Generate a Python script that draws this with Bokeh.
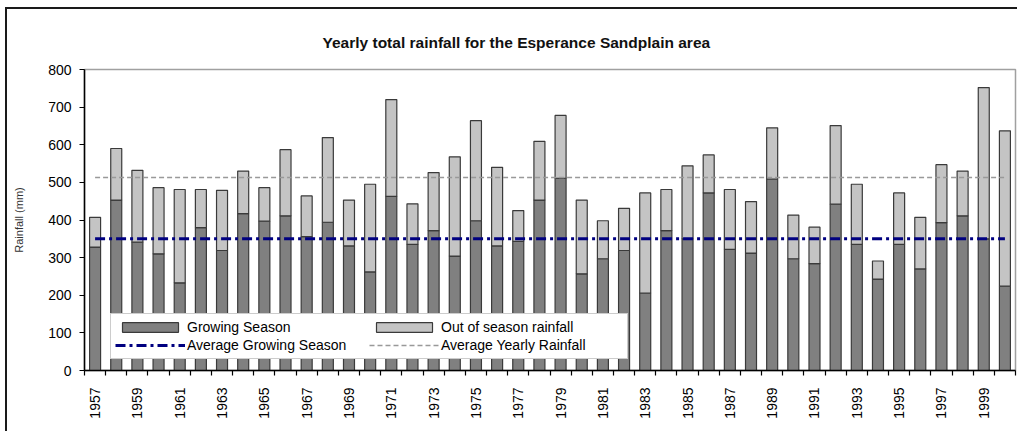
import math
from bokeh.plotting import figure
from bokeh.models import (ColumnDataSource, FixedTicker, Legend, LegendItem, Range1d)
from bokeh.embed import file_html
from bokeh.resources import INLINE

years = list(range(1957, 2001))
growing = [328, 453, 341, 310, 233, 380, 319, 417, 397, 411,
           356, 394, 331, 262, 463, 335, 372, 304, 398, 331,
           343, 453, 511, 257, 297, 319, 206, 372, 350, 472,
           322, 312, 509, 297, 284, 442, 335, 243, 335, 270,
           393, 411, 350, 224]
out_season = [79, 137, 191, 176, 248, 101, 160, 113, 89, 176,
              108, 225, 122, 233, 257, 108, 154, 264, 266, 209,
              82, 156, 167, 196, 101, 112, 266, 109, 194, 101,
              159, 137, 136, 116, 97, 209, 160, 48, 137, 137,
              154, 119, 402, 413]
avg_growing = 350
avg_yearly = 513
y_ticks = [0, 100, 200, 300, 400, 500, 600, 700, 800]
x_label_years = [y for y in years if y % 2 == 1]
title_text = "Yearly total rainfall for the Esperance Sandplain area"

FONT = "Liberation Sans"

src = ColumnDataSource(dict(year=years, growing=growing, out_season=out_season))

p = figure(width=1012, height=424, output_backend="svg", toolbar_location=None,
           x_range=Range1d(years[0] - 0.5, years[-1] + 0.5), y_range=Range1d(0, 800),
           min_border_left=77, min_border_right=4, min_border_top=60, min_border_bottom=63)
p.styles = {"border-top": "2px solid #1a1a1a", "border-left": "2px solid #1a1a1a",
            "margin-left": "5px", "margin-top": "7px"}

p.title.text = title_text
p.title.align = "left"
p.title.offset = 238
p.title.standoff = 38
p.title.text_font = FONT
p.title.text_font_size = "15.5px"
p.title.text_font_style = "bold"
p.title.text_color = "#111111"

p.outline_line_color = "#a0a0a0"
p.outline_line_width = 1.5
p.xgrid.grid_line_color = None
p.ygrid.grid_line_color = None
p.background_fill_color = "white"
p.border_fill_color = "white"

bars = p.vbar_stack(["growing", "out_season"], x="year", width=0.52, source=src,
                    fill_color=["#808080", "#c4c4c4"], line_color="#3a3a3a", line_width=1.2)

l1 = p.line(x=[years[0], years[-1]], y=[avg_yearly, avg_yearly], line_color="#999999",
            line_width=1.5, line_dash="5 3")
l2 = p.line(x=[years[0], years[-1]], y=[avg_growing, avg_growing], line_color="#000080",
            line_width=3, line_dash="10 4 3 4")

# axes
xa = p.xaxis[0]
minor = [y - 0.5 for y in years] + [years[-1] + 0.5]
xa.ticker = FixedTicker(ticks=x_label_years, minor_ticks=minor)
xa.major_tick_in = 0
xa.major_tick_out = 0
xa.minor_tick_in = 0
xa.minor_tick_out = 5
xa.minor_tick_line_color = "black"
xa.minor_tick_line_width = 1.2
xa.axis_line_color = "black"
xa.axis_line_width = 1.5
xa.major_label_orientation = math.pi / 2
xa.major_label_standoff = 12
xa.major_label_text_font = FONT
xa.major_label_text_font_size = "14px"
xa.major_label_text_color = "black"

ya = p.yaxis[0]
ya.ticker = FixedTicker(ticks=y_ticks)
ya.minor_tick_line_color = None
ya.major_tick_in = 0
ya.major_tick_out = 5
ya.major_tick_line_width = 1.2
ya.axis_line_color = "black"
ya.axis_line_width = 1.5
ya.major_label_standoff = 8
ya.major_label_text_font = FONT
ya.major_label_text_font_size = "14px"
ya.major_label_text_color = "black"
ya.axis_label = "Rainfall (mm)"
ya.axis_label_text_font = FONT
ya.axis_label_text_font_size = "11px"
ya.axis_label_text_font_style = "normal"
ya.axis_label_text_color = "#333333"
ya.axis_label_standoff = 20

legend = Legend(items=[
    LegendItem(label="Growing Season", renderers=[bars[0]]),
    LegendItem(label="Out of season rainfall", renderers=[bars[1]]),
    LegendItem(label="Average Growing Season", renderers=[l2]),
    LegendItem(label="Average Yearly Rainfall", renderers=[l1]),
], location=(26, 11), orientation="horizontal", ncols=2)
legend.glyph_width = 70
legend.glyph_height = 12
legend.label_standoff = 2
legend.label_width = 182
legend.label_height = 18
legend.spacing = 0
legend.padding = 4
legend.margin = 0
legend.label_text_font = FONT
legend.label_text_font_size = "14px"
legend.label_text_color = "black"
legend.border_line_color = "#999999"
legend.border_line_width = 1.5
legend.background_fill_color = "white"
legend.background_fill_alpha = 1.0
p.add_layout(legend, "center")

open("out.html", "w").write(file_html(p, INLINE))
